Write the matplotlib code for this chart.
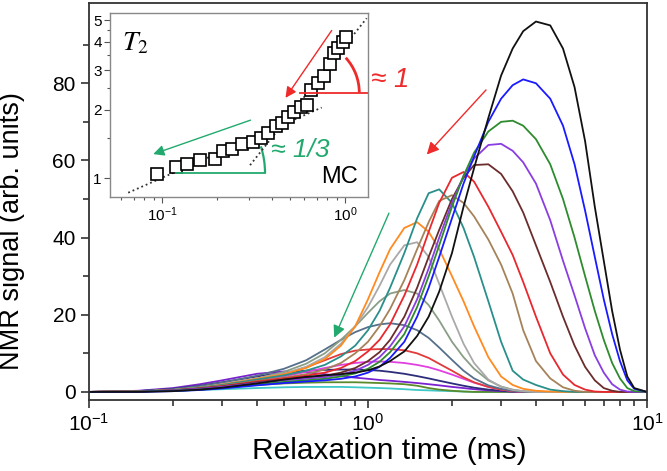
import numpy as np
import matplotlib
matplotlib.use("Agg")
import matplotlib.pyplot as plt
from matplotlib.patches import Arc
from matplotlib.ticker import FixedLocator, FixedFormatter, NullFormatter, LogLocator

plt.rcParams['font.family'] = ['Liberation Sans', 'DejaVu Sans']
plt.rcParams['mathtext.fontset'] = 'custom'
plt.rcParams['mathtext.rm'] = 'Liberation Sans'
plt.rcParams['mathtext.it'] = 'Liberation Sans:italic'
plt.rcParams['axes.unicode_minus'] = False

# relaxation time grid (ms) shared by all distributions
T = [0.1, 0.15, 0.2, 0.25, 0.3, 0.4, 0.5, 0.6, 0.7, 0.8, 0.9, 1.0, 1.1, 1.2, 1.35, 1.5, 1.65, 1.8,
     2.0, 2.2, 2.4, 2.7, 3.0, 3.3, 3.6, 4.0, 4.5, 5.0, 5.5, 6.0, 6.5, 7.0, 7.5, 8.0, 8.5, 9.0, 10.0]

# NMR signal of each T2 distribution
black = [0, 0, 0.2, 0.6, 1.1, 2.2, 3.2, 3.9, 4.3, 4.6, 5.0, 5.6, 6.6, 8.0, 10.5, 14.5, 19.5, 26,
         36, 48, 58, 71, 82, 89, 93.5, 96, 95, 89, 79, 65, 48, 34, 21, 11, 4, 1, 0]
blue = [0, 0, 0.2, 0.5, 0.9, 1.7, 2.3, 2.7, 3.0, 3.4, 4.0, 5.0, 6.5, 8.8, 13, 19.5, 27, 35,
        45, 54, 61, 70, 76, 79.5, 81, 80, 76, 69, 59, 47, 35, 24, 15, 8, 3, 0.8, 0]
green = [0, 0.1, 0.3, 0.6, 1.0, 1.9, 2.6, 3.0, 3.4, 4.0, 4.8, 6.0, 7.8, 10.3, 15, 22, 30, 38,
         48, 56, 62, 67.5, 70, 70.3, 69, 65.5, 59, 50, 40, 30, 21, 13.5, 7.5, 3.5, 1, 0.2, 0]
purple = [0, 0.1, 0.4, 0.8, 1.3, 2.3, 3.0, 3.4, 3.8, 4.5, 5.5, 7.0, 9.0, 11.8, 17, 24, 32, 40,
          49, 56, 60.5, 64, 64.3, 62.5, 59.5, 54, 44.5, 34, 25, 16.5, 9.5, 5, 2, 0.6, 0.1, 0, 0]
brown = [0, 0.1, 0.4, 0.9, 1.4, 2.5, 3.2, 3.7, 4.2, 5.0, 6.2, 8.0, 10.3, 13.5, 19.5, 27, 35, 42,
         50, 55.5, 58.8, 59, 56.5, 52, 46.5, 38, 28.5, 19.5, 12, 6.5, 3, 1, 0.3, 0, 0, 0, 0]
red = [0, 0.1, 0.4, 0.9, 1.5, 2.7, 3.5, 4.2, 5.0, 6.2, 8.0, 10.5, 13.5, 17.5, 25, 33, 41.5, 49,
       55.5, 57, 54.5, 48, 41.5, 35.5, 28.5, 19.5, 10, 4.5, 1.8, 0.6, 0.1, 0, 0, 0, 0, 0, 0]
tan = [0, 0.1, 0.5, 1.0, 1.6, 2.8, 3.7, 4.6, 5.8, 7.5, 10, 13, 17, 21.5, 29, 37, 44, 49.5,
       51, 49, 45.5, 39.5, 33, 25.5, 16, 8, 3.5, 1.2, 0.3, 0, 0, 0, 0, 0, 0, 0, 0]
teal = [0, 0.1, 0.5, 1.1, 1.8, 3.2, 4.3, 5.5, 7.0, 9.2, 12, 16, 21, 27, 36, 45, 51.5, 52.5,
        49, 42.5, 35, 23.5, 13, 5.5, 3.2, 1.8, 0.6, 0.2, 0, 0, 0, 0, 0, 0, 0, 0, 0]
orange = [0, 0.1, 0.5, 1.1, 1.9, 3.4, 4.6, 6.2, 8.5, 12, 17, 24, 31, 37, 42.5, 44, 41.5, 37,
          30, 23.5, 17, 9, 4, 1.8, 0.8, 0.3, 0.1, 0, 0, 0, 0, 0, 0, 0, 0, 0, 0]
gray = [0, 0.1, 0.5, 1.1, 2.0, 3.5, 4.8, 6.5, 9, 12.5, 17, 22, 27.5, 33, 38, 38.8, 35, 28,
        19.5, 12.5, 7.5, 3.2, 1.3, 0.5, 0.2, 0, 0, 0, 0, 0, 0, 0, 0, 0, 0, 0, 0]
sage = [0, 0.1, 0.5, 1.1, 1.9, 3.5, 5.2, 7.3, 10, 13.5, 17, 20.5, 23.5, 25.5, 26.4, 25.5, 22.5, 18.5,
        13, 9, 6, 3, 1.4, 0.6, 0.2, 0, 0, 0, 0, 0, 0, 0, 0, 0, 0, 0, 0]
slate = [0, 0.2, 0.7, 1.5, 2.4, 4.2, 6.0, 8.2, 11, 13.5, 15.5, 16.8, 17.5, 17.8, 17.3, 16, 14, 11.5,
         8.3, 5.5, 3.5, 1.7, 0.8, 0.3, 0, 0, 0, 0, 0, 0, 0, 0, 0, 0, 0, 0, 0]
red2 = [0, 0.1, 0.4, 0.9, 1.5, 3.0, 4.6, 6.4, 8.2, 9.8, 10.7, 11, 11.1, 11.1, 10.8, 10, 8.8, 7.3,
        5.5, 3.8, 2.5, 1.3, 0.6, 0.2, 0, 0, 0, 0, 0, 0, 0, 0, 0, 0, 0, 0, 0]
magenta = [0, 0.1, 0.4, 0.9, 1.4, 2.7, 4.0, 5.2, 6.2, 7.0, 7.5, 7.8, 7.9, 7.8, 7.5, 7.0, 6.4, 5.6,
           4.5, 3.4, 2.4, 1.3, 0.6, 0.2, 0, 0, 0, 0, 0, 0, 0, 0, 0, 0, 0, 0, 0]
navy = [0, 0.2, 0.8, 1.6, 2.5, 4.0, 5.0, 5.5, 5.7, 5.8, 5.8, 5.7, 5.5, 5.2, 4.7, 4.1, 3.5, 2.9,
        2.2, 1.6, 1.1, 0.6, 0.3, 0.1, 0, 0, 0, 0, 0, 0, 0, 0, 0, 0, 0, 0, 0]
violet = [0, 0.3, 1.0, 2.0, 3.0, 4.7, 5.3, 5.1, 4.6, 4.1, 3.7, 3.4, 3.1, 2.9, 2.6, 2.3, 2.0, 1.7,
          1.3, 1.0, 0.7, 0.4, 0.2, 0.1, 0, 0, 0, 0, 0, 0, 0, 0, 0, 0, 0, 0, 0]
olive = [0, 0.1, 0.4, 0.8, 1.2, 1.8, 2.2, 2.4, 2.5, 2.5, 2.5, 2.4, 2.3, 2.2, 2.0, 1.6, 1.0, 0.6,
         0.3, 0.1, 0, 0, 0, 0, 0, 0, 0, 0, 0, 0, 0, 0, 0, 0, 0, 0, 0]
cyan = [0, 0.1, 0.3, 0.5, 0.7, 1.0, 1.2, 1.3, 1.3, 1.3, 1.2, 1.1, 1.0, 0.9, 0.7, 0.5, 0.4, 0.3,
        0.2, 0.1, 0, 0, 0, 0, 0, 0, 0, 0, 0, 0, 0, 0, 0, 0, 0, 0, 0]

# inset: T2 for MC, log-log
inset_x = [0.094, 0.119, 0.1375, 0.161, 0.195, 0.216, 0.242, 0.275, 0.313, 0.348, 0.381, 0.418, 0.454,
           0.490, 0.528, 0.575, 0.618, 0.650, 0.715, 0.771, 0.828, 0.874, 0.919, 0.979, 1.01]
inset_y = [1.04, 1.12, 1.15, 1.20, 1.21, 1.32, 1.35, 1.41, 1.45, 1.51, 1.58, 1.69, 1.76,
           1.87, 1.95, 2.07, 2.10, 2.45, 2.62, 2.83, 3.18, 3.56, 3.77, 4.01, 4.22]
fit_slow_x = [0.0654, 0.746]   # slope ~1/3
fit_slow_y = [0.861, 2.05]
fit_fast_x = [0.303, 1.314]    # slope ~1
fit_fast_y = [1.14, 5.09]

RED = '#ee2a2a'
GRN = '#22aa6e'

# small curves first, big ones on top
curves = [(cyan, '#3ec8c8'), (olive, '#5b8a2a'), (violet, '#7a22d0'), (navy, '#2c2c7a'),
          (magenta, '#e040e0'), (red2, '#e23a3a'), (slate, '#56708c'), (sage, '#8a9e86'),
          (gray, '#a9a9a9'), (orange, '#ff8a1f'), (teal, '#2a8f8a'), (tan, '#a4835a'),
          (red, '#e8282e'), (brown, '#6b2c2c'), (purple, '#8a3de0'), (green, '#2e8b2e'),
          (blue, '#1a1aff'), (black, '#111111')]

fig = plt.figure(figsize=(6.67, 4.71), dpi=100)
ax = fig.add_axes([0.1334, 0.1507, 0.8366, 0.8429])

for vals, col in curves:
    ax.plot(T, vals, color=col, lw=1.3)

ax.set_xscale('log')
ax.set_xlim(0.1, 10)
ax.set_ylim(-2.1, 100.8)
ax.yaxis.set_major_locator(FixedLocator([0, 20, 40, 60, 80]))
ax.yaxis.set_minor_locator(FixedLocator([10, 30, 50, 70, 90]))
ax.tick_params(which='both', direction='out', top=False, right=False, labelsize=15, width=1.2, color='#333333')
ax.tick_params(which='major', length=6)
ax.tick_params(which='minor', length=4)
for s in ax.spines.values():
    s.set_linewidth(1.3)
    s.set_color('#333333')
ax.set_xlabel('Relaxation time (ms)', fontsize=21.5)
ax.xaxis.set_label_coords(0.539, -0.093)
ax.set_ylabel('NMR signal (arb. units)', fontsize=19.5)
ax.yaxis.set_label_coords(-0.115, 0.426)

# arrows in main plot
ax.annotate('', xy=(1.6, 61), xytext=(2.69, 78.8),
            arrowprops=dict(arrowstyle='-|>', color=RED, lw=1.0, mutation_scale=18))
ax.annotate('', xy=(0.75, 13.4), xytext=(1.2, 47),
            arrowprops=dict(arrowstyle='-|>', color=GRN, lw=1.0, mutation_scale=18))

### inset ###
axin = fig.add_axes([0.1649, 0.5817, 0.3868, 0.3907])
axin.plot(fit_slow_x, fit_slow_y, ':', color='#333333', lw=1.3)
axin.plot(fit_fast_x, fit_fast_y, ':', color='#333333', lw=1.3)
axin.plot(inset_x, inset_y, 's', mfc='white', mec='black', ms=8.5, mew=1.2)
axin.set_xscale('log')
axin.set_yscale('log')
axin.set_xlim(0.052, 1.336)
axin.set_ylim(0.824, 5.37)
axin.xaxis.set_major_locator(LogLocator(base=10, numticks=5))
axin.xaxis.set_minor_locator(LogLocator(base=10, subs=np.arange(2, 10), numticks=10))
axin.xaxis.set_minor_formatter(NullFormatter())
axin.yaxis.set_major_locator(FixedLocator([1, 2, 3, 4, 5]))
axin.yaxis.set_major_formatter(FixedFormatter(['1', '2', '3', '4', '5']))
axin.yaxis.set_minor_locator(FixedLocator([1.5, 2.5, 3.5, 4.5]))
axin.yaxis.set_minor_formatter(NullFormatter())
axin.tick_params(which='both', direction='out', labelsize=11, width=0.8, color='#555555', pad=2)
axin.tick_params(which='major', length=4)
axin.tick_params(which='minor', length=2.5)
for s in axin.spines.values():
    s.set_linewidth(1.0)
    s.set_color('#888888')

# slope markers
axin.plot([0.256, 0.601], [0.129, 0.129], color=GRN, lw=1.3, transform=axin.transAxes)
axin.add_patch(Arc((0.256, 0.129), 2 * 89 / 258, 2 * 89 / 184, theta1=0, theta2=24,
                   color=GRN, lw=1.6, transform=axin.transAxes))
axin.plot([0.736, 1.0], [0.567, 0.567], color=RED, lw=1.3, transform=axin.transAxes)
axin.add_patch(Arc((0.7655, 0.567), 2 * 51.8 / 258, 2 * 51.8 / 184, theta1=0, theta2=52,
                   color=RED, lw=2.0, transform=axin.transAxes))

axin.annotate('', xy=(0.464, 2.21), xytext=(0.863, 4.6),
              arrowprops=dict(arrowstyle='-|>', color=RED, lw=1.0, mutation_scale=16))
axin.annotate('', xy=(0.0867, 1.264), xytext=(0.315, 1.82),
              arrowprops=dict(arrowstyle='-|>', color=GRN, lw=1.0, mutation_scale=16))

axin.text(0.736, 0.255, '≈ 1/3', color=GRN, fontsize=19, style='italic',
          ha='center', va='center', transform=axin.transAxes)
axin.text(0.891, 0.11, 'MC', color='black', fontsize=17, ha='center', va='center',
          transform=axin.transAxes)
axin.text(0.097, 0.837, r'$T_2$', fontsize=20, math_fontfamily='stix',
          ha='center', va='center', transform=axin.transAxes)
fig.text(0.585, 0.830, '≈ 1', color=RED, fontsize=20, style='italic', ha='center', va='center')

fig.savefig('out.png', dpi=100)
